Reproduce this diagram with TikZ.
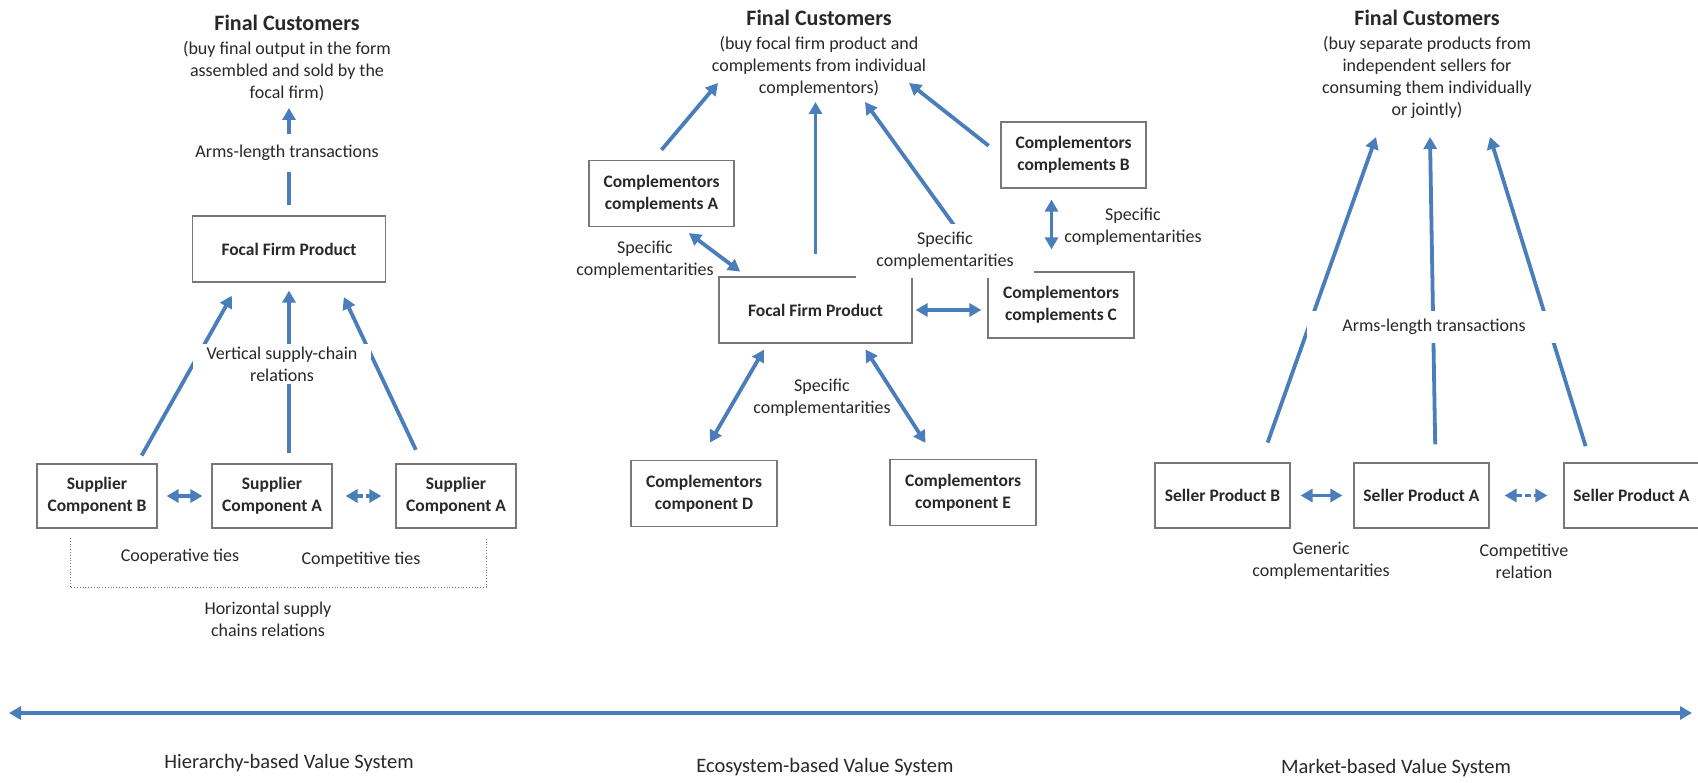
\documentclass[tikz,border=0pt]{standalone}
\usepackage{fontspec}
\setmainfont{Carlito}
\usetikzlibrary{arrows.meta}
\definecolor{arrowblue}{RGB}{74,126,187}
\definecolor{boxgray}{RGB}{120,120,120}
\definecolor{txtgray}{RGB}{40,40,40}

\begin{document}
\begin{tikzpicture}[x=1pt,y=-1pt,
  every node/.style={font=\fontsize{18}{22}\selectfont,text=txtgray},
  box/.style={draw=boxgray,line width=1.2pt,fill=white,align=center,
    font=\fontsize{17.5}{22}\selectfont\bfseries,minimum height=66pt,inner sep=0pt},
  cust/.style={align=center,anchor=north,inner sep=0pt},
  note/.style={align=center,inner sep=0pt},
  gap/.style={align=center,fill=white,inner xsep=14pt,inner ysep=3pt},
  sys/.style={font=\fontsize{20.5}{24}\selectfont},
  arr/.style={draw=arrowblue,line width=3.8pt,-{Triangle[length=12pt,width=13pt]}},
  dbl/.style={draw=arrowblue,line width=3.8pt,
    {Triangle[length=12pt,width=13pt]}-{Triangle[length=12pt,width=13pt]}},
  rival/.style={dbl,dash pattern=on 6pt off 3pt},
  bracket/.style={draw=boxgray,line width=0.8pt,dotted}]
  \useasboundingbox (0,0) rectangle (1698,783);

  \node[cust] (custL) at (287,15) {\textbf{\fontsize{22}{24}\selectfont Final Customers}\\[2pt]
    (buy final output in the form\\assembled and sold by the\\focal firm)};
  \node[box,minimum width=193pt] (focalL) at (289,249) {Focal Firm Product};
  \node[box,minimum width=120pt,minimum height=64pt] (supB) at (97,496) {Supplier\\Component B};
  \node[box,minimum width=120pt,minimum height=64pt] (supA) at (272,496) {Supplier\\Component A};
  \node[box,minimum width=120pt,minimum height=64pt] (supA2) at (456,496) {Supplier\\Component A};
  \coordinate (tipL) at (289,108);
  \draw[arr,shorten <=10pt] (focalL.north) -- (tipL);
  \node[gap,inner ysep=11pt] (armsL) at (287,153) {Arms-length transactions};
  \draw[arr,shorten <=9pt,shorten >=15pt] (supB.39) -- (focalL.214);
  \draw[arr,shorten <=10pt,shorten >=8pt] (supA.north -| focalL.south) -- (focalL.south);
  \draw[arr,shorten <=15pt,shorten >=16pt] (supA2.136) -- (focalL.325);
  \node[gap] (vertL) at (282,364) {Vertical supply-chain\\relations};
  \draw[dbl,shorten <=9pt,shorten >=9pt] (supB) -- (supA);
  \draw[rival,shorten <=13pt,shorten >=14pt] (supA) -- (supA2);
  \draw[bracket] (70,538) |- (486,587) -- (486,538);
  \node (coopL) at (180,557) {Cooperative ties};
  \node (rivalL) at (361,560) {Competitive ties};
  \node[note] (horL) at (268,619) {Horizontal supply\\chains relations};

  \node[cust] (custM) at (819,10) {\textbf{\fontsize{22}{24}\selectfont Final Customers}\\[2pt]
    (buy focal firm product and\\complements from individual\\complementors)};
  \node[box,minimum width=145pt] (compA) at (661.5,193.5) {Complementors\\complements A};
  \node[box,minimum width=145pt] (compB) at (1073.5,155) {Complementors\\complements B};
  \node[box,minimum width=146pt] (compC) at (1061,305) {Complementors\\complements C};
  \node[box,minimum width=193pt] (focalM) at (815.5,310) {Focal Firm Product};
  \node[box,minimum width=146pt] (compD) at (704,493.5) {Complementors\\component D};
  \node[box,minimum width=146pt] (compE) at (963,492.5) {Complementors\\component E};
  \coordinate (tipM1) at (718,83);
  \coordinate (tipM2) at (815.5,102);
  \coordinate (tipM3) at (865,102);
  \coordinate (tipM4) at (909,83);
  \draw[arr] ([yshift=10pt]compA.north) -- (tipM1);
  \draw[arr] ([yshift=22pt]focalM.north) -- (tipM2);
  \draw[arr,shorten <=55pt] (compC.north west) -- (tipM3);
  \draw[arr,shorten <=15pt] (compB.west) -- (tipM4);
  \draw[dbl,shorten <=10pt,shorten >=8pt] (compA.300) -- (focalM.154);
  \draw[dbl,shorten <=3pt,shorten >=6pt] (focalM.east) -- (focalM.east -| compC.west);
  \draw[dbl,shorten <=11pt,shorten >=22pt] ([xshift=-22pt]compB.south) -- ([xshift=-22pt]compB.south |- compC.north);
  \draw[dbl,shorten <=7pt,shorten >=20pt] (focalM.215) -- (compD.97);
  \draw[dbl,shorten <=7pt,shorten >=19pt] (focalM.324) -- (compE.129);
  \node[note] (specA) at (645,260) {Specific\\complementarities};
  \node[gap,inner xsep=20pt,inner ysep=8pt] (specC) at (945,251) {Specific\\complementarities};
  \node[note] (specB) at (1133,227) {Specific\\complementarities};
  \node[note] (specD) at (822,398) {Specific\\complementarities};

  \node[cust] (custR) at (1427,10) {\textbf{\fontsize{22}{24}\selectfont Final Customers}\\[2pt]
    (buy separate products from\\independent sellers for\\consuming them individually\\or jointly)};
  \node[box,minimum width=135pt,minimum height=65pt] (sellB) at (1222.5,495.5) {Seller Product B};
  \node[box,minimum width=135pt,minimum height=65pt] (sellA) at (1421.5,495.5) {Seller Product A};
  \node[box,minimum width=135pt,minimum height=65pt] (sellA2) at (1631.5,495.5) {Seller Product A};
  \coordinate (tipR1) at (1376,137);
  \coordinate (tipR2) at (1430,137);
  \coordinate (tipR3) at (1490,137);
  \draw[arr,shorten <=21pt] (sellB.41) -- (tipR1);
  \draw[arr,shorten <=18pt] ([xshift=14pt]sellA.north) -- (tipR2);
  \draw[arr,shorten <=17pt] (sellA2.141) -- (tipR3);
  \node[gap,inner xsep=35pt,inner ysep=8pt] (armsR) at (1434,327) {Arms-length transactions};
  \draw[dbl,shorten <=10pt,shorten >=11pt] (sellB) -- (sellA);
  \draw[rival,shorten <=15pt,shorten >=16pt] (sellA) -- (sellA2);
  \node[note] (genR) at (1321,561) {Generic\\complementarities};
  \node[note] (rivalR) at (1524,561) {Competitive\\relation};

  \coordinate (axL) at (9,713);
  \coordinate (axR) at (1692,713);
  \draw[dbl,line width=3.4pt] (axL) -- (axR);
  \node[sys] (hierS) at (289,763) {Hierarchy-based Value System};
  \node[sys] (ecoS) at (825,767) {Ecosystem-based Value System};
  \node[sys] (markS) at (1396,768) {Market-based Value System};
\end{tikzpicture}
\end{document}
